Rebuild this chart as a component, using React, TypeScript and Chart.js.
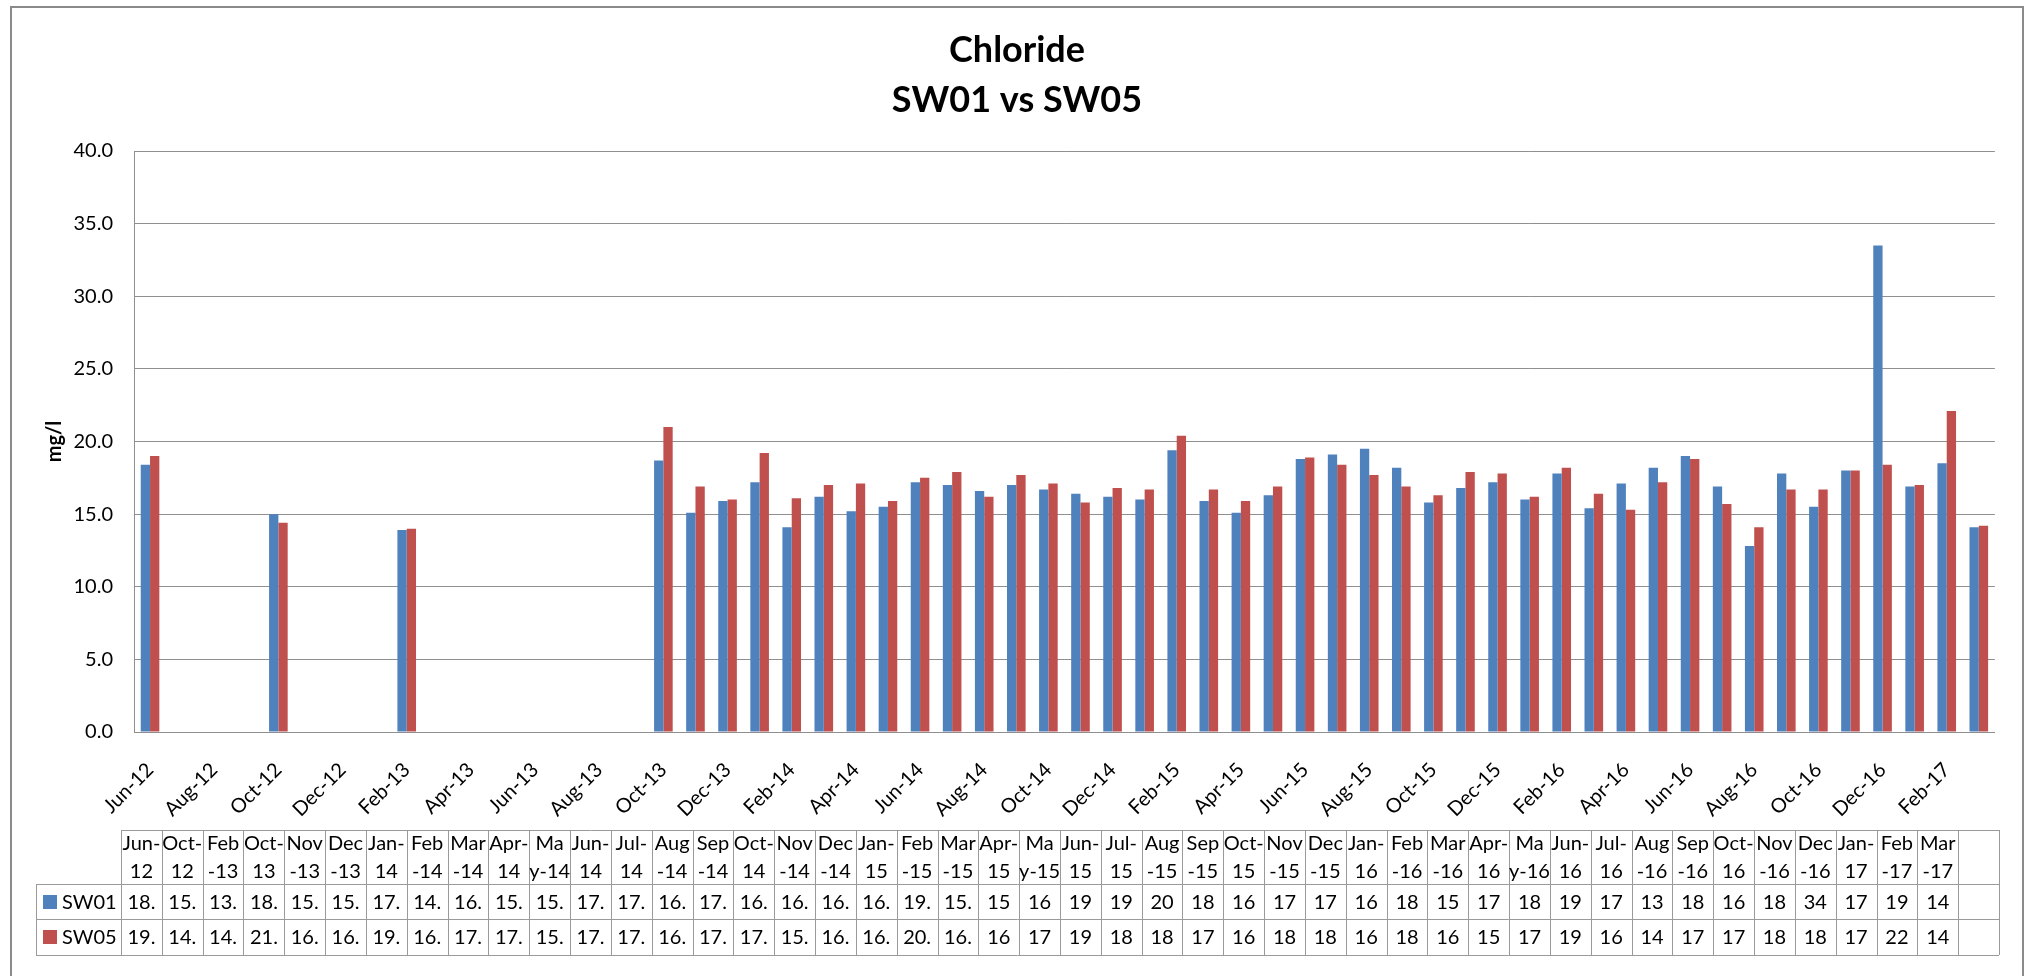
import { useEffect, useRef } from 'react';
import { Chart, registerables } from 'chart.js';

Chart.register(...registerables);

// Monthly date axis of the chart (every month from Jun-12 to Mar-17)
const axisMonths = [
  'Jun-12', 'Jul-12', 'Aug-12', 'Sep-12', 'Oct-12', 'Nov-12', 'Dec-12',
  'Jan-13', 'Feb-13', 'Mar-13', 'Apr-13', 'May-13', 'Jun-13', 'Jul-13', 'Aug-13', 'Sep-13', 'Oct-13', 'Nov-13', 'Dec-13',
  'Jan-14', 'Feb-14', 'Mar-14', 'Apr-14', 'May-14', 'Jun-14', 'Jul-14', 'Aug-14', 'Sep-14', 'Oct-14', 'Nov-14', 'Dec-14',
  'Jan-15', 'Feb-15', 'Mar-15', 'Apr-15', 'May-15', 'Jun-15', 'Jul-15', 'Aug-15', 'Sep-15', 'Oct-15', 'Nov-15', 'Dec-15',
  'Jan-16', 'Feb-16', 'Mar-16', 'Apr-16', 'May-16', 'Jun-16', 'Jul-16', 'Aug-16', 'Sep-16', 'Oct-16', 'Nov-16', 'Dec-16',
  'Jan-17', 'Feb-17', 'Mar-17',
];

// Sampled months (data table columns)
const sampleMonths = [
  'Jun-12', 'Oct-12', 'Feb-13', 'Oct-13', 'Nov-13', 'Dec-13',
  'Jan-14', 'Feb-14', 'Mar-14', 'Apr-14', 'May-14', 'Jun-14', 'Jul-14', 'Aug-14', 'Sep-14', 'Oct-14', 'Nov-14', 'Dec-14',
  'Jan-15', 'Feb-15', 'Mar-15', 'Apr-15', 'May-15', 'Jun-15', 'Jul-15', 'Aug-15', 'Sep-15', 'Oct-15', 'Nov-15', 'Dec-15',
  'Jan-16', 'Feb-16', 'Mar-16', 'Apr-16', 'May-16', 'Jun-16', 'Jul-16', 'Aug-16', 'Sep-16', 'Oct-16', 'Nov-16', 'Dec-16',
  'Jan-17', 'Feb-17', 'Mar-17',
];

const sw01 = [
  18.4, 15.0, 13.9, 18.7, 15.1, 15.9,
  17.2, 14.1, 16.2, 15.2, 15.5, 17.2, 17.0, 16.6, 17.0, 16.7, 16.4, 16.2,
  16.0, 19.4, 15.9, 15.1, 16.3, 18.8, 19.1, 19.5, 18.2, 15.8, 16.8, 17.2,
  16.0, 17.8, 15.4, 17.1, 18.2, 19.0, 16.9, 12.8, 17.8, 15.5, 18.0, 33.5,
  16.9, 18.5, 14.1,
];

const sw05 = [
  19.0, 14.4, 14.0, 21.0, 16.9, 16.0,
  19.2, 16.1, 17.0, 17.1, 15.9, 17.5, 17.9, 16.2, 17.7, 17.1, 15.8, 16.8,
  16.7, 20.4, 16.7, 15.9, 16.9, 18.9, 18.4, 17.7, 16.9, 16.3, 17.9, 17.8,
  16.2, 18.2, 16.4, 15.3, 17.2, 18.8, 15.7, 14.1, 16.7, 16.7, 18.0, 18.4,
  17.0, 22.1, 14.2,
];

// Texts shown in the data table (as they appear, clipped by the cells)
const tableSw01 = [
  '18.', '15.', '13.', '18.', '15.', '15.', '17.', '14.', '16.', '15.', '15.', '17.', '17.', '16.', '17.', '16.', '16.', '16.',
  '16.', '19.', '15.', '15', '16', '19', '19', '20', '18', '16', '17', '17', '16', '18', '15', '17', '18', '19', '17', '13',
  '18', '16', '18', '34', '17', '19', '14',
];
const tableSw05 = [
  '19.', '14.', '14.', '21.', '16.', '16.', '19.', '16.', '17.', '17.', '15.', '17.', '17.', '16.', '17.', '17.', '15.', '16.',
  '16.', '20.', '16.', '16', '17', '19', '18', '18', '17', '16', '18', '18', '16', '18', '16', '15', '17', '19', '16', '14',
  '17', '17', '18', '18', '17', '22', '14',
];

const seriesNames = ['SW01', 'SW05'];
const seriesColors = ['#4F81BD', '#C0504D'];
const titleLines = ['Chloride', 'SW01 vs SW05'];
const yTitle = 'mg/l';

const FONT = 'Lato, "Noto Sans", sans-serif';

function wrapHeader(m: string): [string, string] {
  const [mon, yr] = m.split('-');
  if (mon === 'May') return ['Ma', 'y-' + yr];
  if (['Jan', 'Apr', 'Jun', 'Jul', 'Oct'].includes(mon)) return [mon + '-', yr];
  return [mon, '-' + yr];
}

function toAxis(values: number[]): (number | null)[] {
  return axisMonths.map((m) => {
    const i = sampleMonths.indexOf(m);
    return i >= 0 ? values[i] : null;
  });
}

const W = 2010;
const H = 996;
const PLOT_TOP = 143;
const PLOT_BOTTOM = 724;
const PLOT_LEFT = 122;
const PLOT_RIGHT_PAD = 25;
const X_AXIS_H = 90;

const overlayPlugin = {
  id: 'overlay',
  afterDraw(chart: any) {
    const ctx = chart.ctx as CanvasRenderingContext2D;
    ctx.save();
    // Title
    ctx.fillStyle = '#000';
    ctx.textAlign = 'center';
    ctx.textBaseline = 'alphabetic';
    ctx.font = `bold 36px ${FONT}`;
    ctx.fillText(titleLines[0], W / 2, 54);
    ctx.fillText(titleLines[1], W / 2, 104);

    // Data table
    const tLeft = 109;
    const tRight = 1987;
    const nCols = sampleMonths.length + 1;
    const colW = (tRight - tLeft) / nCols;
    const rowHeadLeft = 24;
    const yTop = 822;
    const yHead = 876;
    const yR1 = 911;
    const yR2 = 947;
    ctx.strokeStyle = '#9a9a9a';
    ctx.lineWidth = 1;
    const hline = (x1: number, x2: number, y: number) => {
      ctx.beginPath();
      ctx.moveTo(x1, Math.round(y) + 0.5);
      ctx.lineTo(x2, Math.round(y) + 0.5);
      ctx.stroke();
    };
    const vline = (x: number, y1: number, y2: number) => {
      ctx.beginPath();
      ctx.moveTo(Math.round(x) + 0.5, y1);
      ctx.lineTo(Math.round(x) + 0.5, y2);
      ctx.stroke();
    };
    hline(tLeft, tRight, yTop);
    hline(rowHeadLeft, tRight, yHead);
    hline(rowHeadLeft, tRight, yR1);
    hline(rowHeadLeft, tRight, yR2);
    vline(rowHeadLeft, yHead, yR2);
    for (let c = 0; c <= nCols; c++) {
      vline(tLeft + c * colW, yTop, yR2);
    }
    ctx.fillStyle = '#000';
    ctx.font = `20px ${FONT}`;
    ctx.textAlign = 'center';
    ctx.textBaseline = 'middle';
    sampleMonths.forEach((m, i) => {
      const cx = tLeft + (i + 0.5) * colW;
      const [a, b] = wrapHeader(m);
      ctx.fillText(a, cx, 836);
      ctx.fillText(b, cx, 864);
      ctx.fillText(tableSw01[i], cx, (yHead + yR1) / 2 + 1);
      ctx.fillText(tableSw05[i], cx, (yR1 + yR2) / 2 + 1);
    });
    // Row headers with legend keys
    const rows = [(yHead + yR1) / 2, (yR1 + yR2) / 2];
    rows.forEach((cy, r) => {
      ctx.fillStyle = seriesColors[r];
      ctx.fillRect(31, Math.round(cy - 7), 14, 14);
      ctx.fillStyle = '#000';
      ctx.textAlign = 'left';
      ctx.fillText(seriesNames[r], 50, cy + 1);
    });
    ctx.restore();
  },
};

export default function App() {
  const ref = useRef<HTMLCanvasElement | null>(null);

  useEffect(() => {
    if (!ref.current) return;
    const chart = new Chart(ref.current, {
      type: 'bar',
      data: {
        labels: axisMonths,
        datasets: [
          {
            label: seriesNames[0],
            data: toAxis(sw01),
            backgroundColor: seriesColors[0],
            borderWidth: 0,
            categoryPercentage: 0.58,
            barPercentage: 1.0,
          },
          {
            label: seriesNames[1],
            data: toAxis(sw05),
            backgroundColor: seriesColors[1],
            borderWidth: 0,
            categoryPercentage: 0.58,
            barPercentage: 1.0,
          },
        ],
      },
      options: {
        responsive: false,
        animation: false,
        devicePixelRatio: 1,
        layout: {
          padding: {
            top: PLOT_TOP,
            right: PLOT_RIGHT_PAD,
            left: 0,
            bottom: H - PLOT_BOTTOM - X_AXIS_H,
          },
        },
        plugins: {
          legend: { display: false },
          title: { display: false },
          tooltip: { enabled: false },
        },
        scales: {
          x: {
            type: 'category',
            grid: { display: false, drawTicks: false },
            border: { display: true, color: '#8f8f8f', width: 1 },
            ticks: {
              autoSkip: false,
              minRotation: 45,
              maxRotation: 45,
              padding: 26,
              color: '#000',
              font: { family: FONT, size: 20 },
              callback: (_v: any, i: number) => (i % 2 === 0 ? axisMonths[i] : ''),
            },
            afterFit: (scale: any) => {
              scale.height = X_AXIS_H;
            },
          },
          y: {
            min: 0,
            max: 40,
            grid: { color: '#8f8f8f', lineWidth: 1, drawTicks: false },
            border: { display: true, color: '#8f8f8f', width: 1 },
            ticks: {
              stepSize: 5,
              padding: 21,
              color: '#000',
              font: { family: FONT, size: 20 },
              callback: (v: any) => Number(v).toFixed(1),
            },
            title: {
              display: true,
              text: yTitle,
              color: '#000',
              font: { family: FONT, size: 20, weight: 'bold' },
              padding: { top: 31, bottom: 0 },
            },
            afterFit: (scale: any) => {
              scale.width = PLOT_LEFT;
            },
          },
        },
      },
      plugins: [overlayPlugin],
    });
    return () => chart.destroy();
  }, []);

  return (
    <div
      style={{
        position: 'fixed',
        left: 10,
        top: 6,
        width: W + 4,
        height: H + 4,
        border: '2px solid #8a8a8a',
        boxSizing: 'border-box',
        background: '#fff',
      }}
    >
      <canvas ref={ref} width={W} height={H} style={{ display: 'block', width: W, height: H }} />
    </div>
  );
}
